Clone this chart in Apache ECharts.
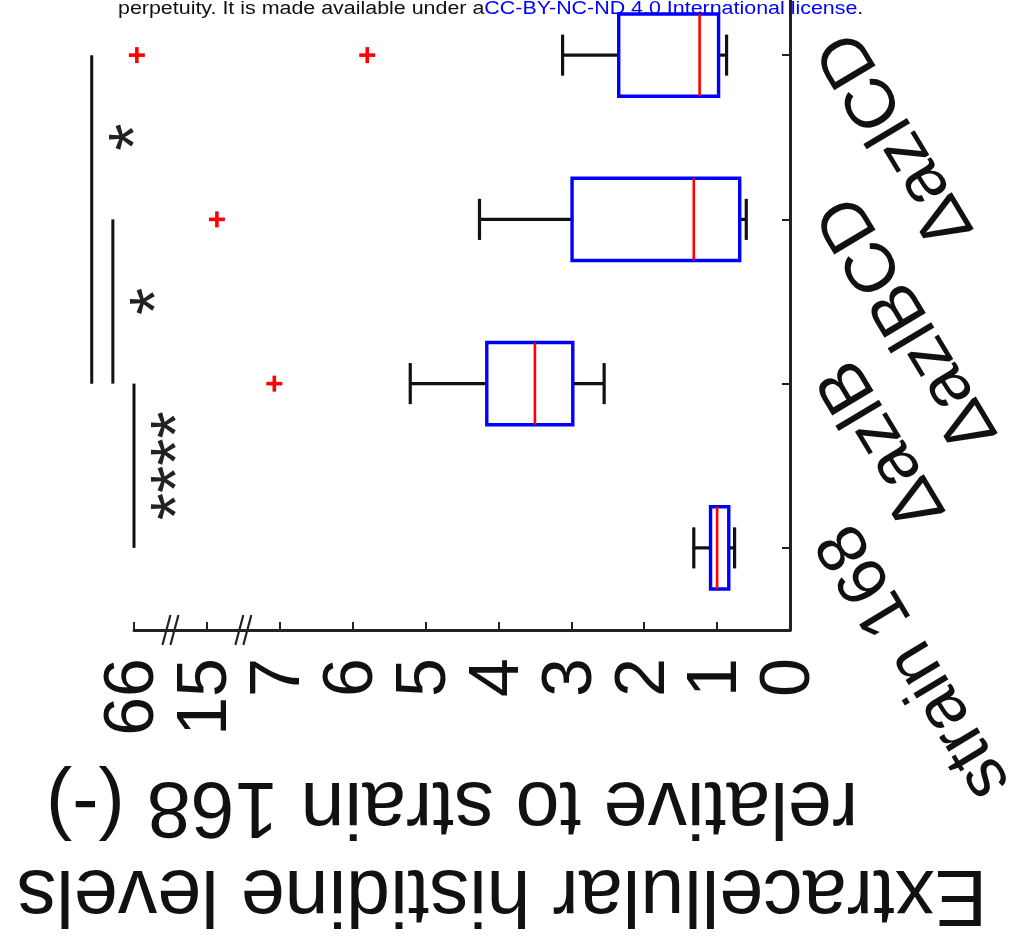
<!DOCTYPE html>
<html><head><meta charset="utf-8">
<script src="https://cdn.jsdelivr.net/npm/echarts@6/dist/echarts.min.js"></script>
<style>html,body{margin:0;padding:0;background:#fff}#c{width:1017px;height:939px}</style>
</head><body><div id="c"></div>
<script>
const categories  = ['strain 168', 'ΔazlB', 'ΔazlBCD', 'ΔazlCD'];
const whiskerLow  = [0.76, 2.55, 0.60, 0.87];
const quartile1   = [0.84, 2.98, 0.69, 0.98];
const medians     = [1.00, 3.50, 1.32, 1.24];
const quartile3   = [1.09, 4.16, 2.99, 2.35];
const whiskerHigh = [1.32, 5.21, 4.26, 3.12];
const outlierCategory = ['ΔazlB', 'ΔazlBCD', 'ΔazlCD', 'ΔazlCD'];
const outlierValues   = [7.6, 13.9, 5.8, 64];
const tickValues = [0, 1, 2, 3, 4, 5, 6, 7, 15, 66];
const comparisonFrom = ['ΔazlB', 'ΔazlBCD', 'ΔazlCD'];
const comparisonTo   = ['strain 168', 'ΔazlB', 'ΔazlB'];
const comparisonMark = ['****', '*', '*'];
const axisTitleLine1 = 'Extracellular histidine levels';
const axisTitleLine2 = 'relative to strain 168 (-)';
const headerPlain = 'perpetuity. It is made available under a';
const headerLink = 'CC-BY-NC-ND 4.0 International license';

// broken axis: each tick interval occupies one unit on the scale
function toPos(v) {
  const n = tickValues.length;
  for (let i = 0; i < n - 1; i++) {
    if (v <= tickValues[i + 1]) return i + (v - tickValues[i]) / (tickValues[i + 1] - tickValues[i]);
  }
  return n - 2 + (v - tickValues[n - 2]) / (tickValues[n - 1] - tickValues[n - 2]);
}
const FONT = 'Liberation Sans, Arial, sans-serif';
const maxPos = tickValues.length - 1;

const boxData = categories.map((c, i) => [i, toPos(whiskerLow[i]), toPos(quartile1[i]), toPos(medians[i]), toPos(quartile3[i]), toPos(whiskerHigh[i])]);
const outlierData = outlierValues.map((v, i) => [categories.indexOf(outlierCategory[i]), toPos(v)]);
const compData = comparisonFrom.map((f, k) => [maxPos + 0.29 * k, categories.indexOf(f), categories.indexOf(comparisonTo[k])]);
const breakData = [];
for (let i = 0; i < tickValues.length - 1; i++) {
  if (tickValues[i + 1] - tickValues[i] !== 1) breakData.push([i + 0.5]);
}

const chart = echarts.init(document.getElementById('c'), null, {renderer: 'canvas'});
chart.setOption({
  animation: false,
  backgroundColor: '#fff',
  grid: {left: 134, right: 227, top: -27, bottom: 309, containLabel: false, outerBoundsMode: 'none'},
  graphic: [{
    type: 'text', left: 118, top: 0, z: 100, scaleX: 1.19,
    style: {
      text: '{a|' + headerPlain + '}{b|' + headerLink + '}{a|.}',
      rich: {
        a: {fontSize: 18, fontFamily: FONT, fill: '#111'},
        b: {fontSize: 18, fontFamily: FONT, fill: '#0000ff'}
      }
    }
  }],
  xAxis: {
    type: 'value', min: 0, max: maxPos, interval: 1, inverse: true,
    axisLine: {show: true, lineStyle: {color: '#222', width: 3}},
    axisTick: {show: true, inside: true, length: 8, lineStyle: {color: '#222', width: 2}},
    splitLine: {show: false},
    axisLabel: {
      rotate: 90, fontSize: 70, fontFamily: FONT, color: '#111', margin: 28,
      formatter: v => String(tickValues[Math.round(v)])
    },
    name: '{l1|' + axisTitleLine1 + '}\n{l2|' + axisTitleLine2 + '}',
    nameLocation: 'middle', nameGap: 131, nameRotate: 180,
    nameTextStyle: {
      fontSize: 79, lineHeight: 88, fontFamily: FONT, color: '#111',
      rich: {
        l1: {fontSize: 79, lineHeight: 88, fontFamily: FONT, color: '#111', padding: [0, 80, 0, 0]},
        l2: {fontSize: 79, lineHeight: 88, fontFamily: FONT, color: '#111', padding: [0, 0, 0, 20]}
      }
    }
  },
  yAxis: {
    type: 'category', data: categories, position: 'right',
    axisLine: {show: true, lineStyle: {color: '#222', width: 3}},
    axisTick: {show: true, inside: true, alignWithLabel: true, length: 8, lineStyle: {color: '#222', width: 2}},
    splitLine: {show: false},
    axisLabel: {
      interval: 0, rotate: 121, fontSize: 70, fontFamily: FONT, color: '#111',
      align: 'right', verticalAlign: 'top', margin: 16
    }
  },
  series: [
    {
      type: 'custom', name: 'box', data: boxData,
      encode: {x: [1, 2, 3, 4, 5], y: 0},
      renderItem: function (params, api) {
        const ci = api.value(0);
        const band = api.size([0, 1])[1];
        const hb = band * 0.25, hc = band * 0.125;
        const p = k => api.coord([api.value(k), ci]);
        const lo = p(1), q1 = p(2), md = p(3), q3 = p(4), hi = p(5);
        const y = lo[1];
        const blk = {stroke: '#111', lineWidth: 3.2};
        return {type: 'group', children: [
          {type: 'line', shape: {x1: lo[0], y1: y, x2: q1[0], y2: y}, style: blk},
          {type: 'line', shape: {x1: q3[0], y1: y, x2: hi[0], y2: y}, style: blk},
          {type: 'line', shape: {x1: lo[0], y1: y - hc, x2: lo[0], y2: y + hc}, style: blk},
          {type: 'line', shape: {x1: hi[0], y1: y - hc, x2: hi[0], y2: y + hc}, style: blk},
          {type: 'rect', shape: {x: Math.min(q1[0], q3[0]), y: y - hb, width: Math.abs(q1[0] - q3[0]), height: 2 * hb},
            style: {fill: 'none', stroke: '#0000ff', lineWidth: 3.4}},
          {type: 'line', shape: {x1: md[0], y1: y - hb, x2: md[0], y2: y + hb}, style: {stroke: '#ff0000', lineWidth: 2.6}}
        ]};
      }
    },
    {
      type: 'custom', name: 'outliers', data: outlierData,
      encode: {x: 1, y: 0},
      renderItem: function (params, api) {
        const c = api.coord([api.value(1), api.value(0)]);
        const s = 8, st = {stroke: '#ff0000', lineWidth: 3.6};
        return {type: 'group', children: [
          {type: 'line', shape: {x1: c[0] - s, y1: c[1], x2: c[0] + s, y2: c[1]}, style: st},
          {type: 'line', shape: {x1: c[0], y1: c[1] - s, x2: c[0], y2: c[1] + s}, style: st}
        ]};
      }
    },
    {
      type: 'custom', name: 'significance', data: compData,
      encode: {x: 0, y: [1, 2]},
      renderItem: function (params, api) {
        const lvl = api.value(0), f = api.value(1), t = api.value(2);
        const a = api.coord([lvl, f]), b = api.coord([lvl, t]);
        const nb = api.coord([lvl, f + Math.sign(t - f)]);
        const my = (a[1] + nb[1]) / 2;
        return {type: 'group', children: [
          {type: 'line', shape: {x1: a[0], y1: a[1], x2: b[0], y2: b[1]}, style: {stroke: '#111', lineWidth: 3}},
          {type: 'text', x: a[0] + 47, y: my, rotation: Math.PI / 2,
            style: {text: comparisonMark[params.dataIndex], fontSize: 70, fontFamily: FONT, fill: '#222', align: 'center', verticalAlign: 'middle'}}
        ]};
      }
    },
    {
      type: 'custom', name: 'breaks', data: breakData,
      encode: {x: 0},
      renderItem: function (params, api) {
        const x = api.coord([api.value(0), 0])[0];
        const yb = params.coordSys.y + params.coordSys.height;
        const st = {stroke: '#222', lineWidth: 2.2};
        return {type: 'group', children: [-4, 4].map(d => ({
          type: 'line', shape: {x1: x + d - 4, y1: yb + 15, x2: x + d + 4, y2: yb - 15}, style: st
        }))};
      }
    }
  ]
});
</script>
</body></html>
